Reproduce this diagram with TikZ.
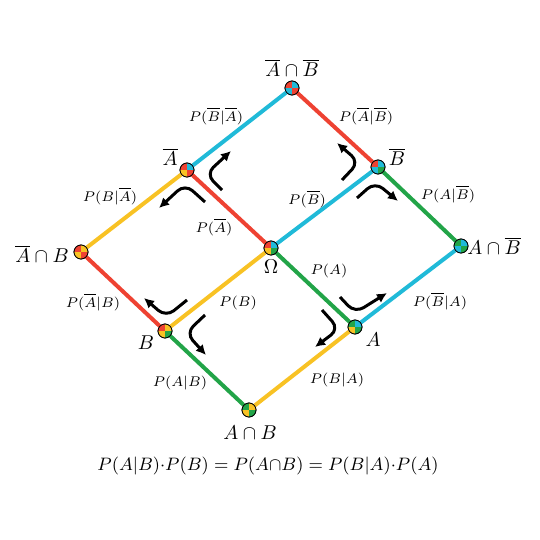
\documentclass[tikz,border=0pt]{standalone}
\usetikzlibrary{arrows.meta,calc}
\definecolor{evred}{RGB}{238,66,50}
\definecolor{evcyan}{RGB}{32,186,216}
\definecolor{evyellow}{RGB}{248,194,36}
\definecolor{evgreen}{RGB}{34,164,72}
\tikzset{
  dot/.style={circle,draw=black,line width=0.4pt,inner sep=0pt,minimum size=7pt},
  edge/.style={line width=2pt},
  turn/.style={line width=1.5pt,rounded corners=5pt,-{Latex[length=5pt,width=5pt]}},
  plab/.style={font=\scriptsize},
  evlab/.style={font=\normalsize}
}
% quarter colours of an event dot: node, top left, top right, bottom left, bottom right
\newcommand{\quads}[5]{%
  \begin{scope}
    \clip (#1.center) circle (3.5pt);
    \fill[#2] (#1.center) rectangle ++(-4pt,4pt);
    \fill[#3] (#1.center) rectangle ++(4pt,4pt);
    \fill[#4] (#1.center) rectangle ++(-4pt,-4pt);
    \fill[#5] (#1.center) rectangle ++(4pt,-4pt);
  \end{scope}
  \draw[line width=0.4pt] (#1.center) circle (3.5pt);
}
\begin{document}
\begin{tikzpicture}[x=0.5pt,y=-0.5pt]
    \useasboundingbox (0,0) rectangle (540,540);
    % events
    \node[dot] (O) at (271,248) {};
    \node[dot] (Ab) at (187,170) {};
    \node[dot] (Bb) at (378,167) {};
    \node[dot] (A) at (355,327) {};
    \node[dot] (B) at (165,331) {};
    \node[dot] (AbBb) at (292,88) {};
    \node[dot] (AbB) at (81,252) {};
    \node[dot] (ABb) at (461,246) {};
    \node[dot] (AB) at (249,410) {};
    % branches
    \draw[edge,evred] (O) -- (Ab);
    \draw[edge,evcyan] (Ab) -- (AbBb);
    \draw[edge,evyellow] (Ab) -- (AbB);
    \draw[edge,evred] (AbB) -- (B);
    \draw[edge,evyellow] (O) -- (B);
    \draw[edge,evcyan] (O) -- (Bb);
    \draw[edge,evred] (Bb) -- (AbBb);
    \draw[edge,evgreen] (Bb) -- (ABb);
    \draw[edge,evgreen] (O) -- (A);
    \draw[edge,evcyan] (A) -- (ABb);
    \draw[edge,evgreen] (B) -- (AB);
    \draw[edge,evyellow] (A) -- (AB);
    % dots
    \quads{O}{evred}{evcyan}{evyellow}{evgreen}
    \quads{Ab}{evred}{evcyan}{evyellow}{evred}
    \quads{Bb}{evred}{evcyan}{evcyan}{evgreen}
    \quads{A}{evgreen}{evcyan}{evyellow}{evgreen}
    \quads{B}{evred}{evyellow}{evyellow}{evgreen}
    \quads{AbBb}{evred}{evcyan}{evcyan}{evred}
    \quads{AbB}{evred}{evyellow}{evyellow}{evred}
    \quads{ABb}{evgreen}{evcyan}{evcyan}{evgreen}
    \quads{AB}{evgreen}{evyellow}{evyellow}{evgreen}
    % turning arrows
    \draw[turn] ($(Ab)+(35,20)$) -- ($(Ab)+(19,4)$) -- ($(Ab)+(44,-19)$);
    \draw[turn] ($(Ab)+(18,32)$) -- ($(Ab)+(-2,14)$) -- ($(Ab)+(-28,38)$);
    \draw[turn] ($(Bb)+(-36,13)$) -- ($(Bb)+(-19,-5)$) -- ($(Bb)+(-41,-24)$);
    \draw[turn] ($(Bb)+(-21,31)$) -- ($(Bb)+(-3,15)$) -- ($(Bb)+(20,34)$);
    \draw[turn] ($(B)+(22,-31)$) -- ($(B)+(1,-14)$) -- ($(B)+(-21,-33)$);
    \draw[turn] ($(B)+(40,-16)$) -- ($(B)+(21,2)$) -- ($(B)+(41,24)$);
    \draw[turn] ($(A)+(-15,-30)$) -- ($(A)+(0,-14)$) -- ($(A)+(32,-34)$);
    \draw[turn] ($(A)+(-33,-17)$) -- ($(A)+(-16,2)$) -- ($(A)+(-40,20)$);
    % event labels
    \node[evlab] (lAbBb) at (292,68) {$\overline{A}\cap\overline{B}$};
    \node[evlab] (lAb) at (170,157) {$\overline{A}$};
    \node[evlab] (lBb) at (397,157) {$\overline{B}$};
    \node[evlab] (lAbB) at (42,254) {$\overline{A}\cap B$};
    \node[evlab] (lO) at (271,267) {$\Omega$};
    \node[evlab] (lABb) at (494,246) {$A\cap\overline{B}$};
    \node[evlab] (lB) at (146,343) {$B$};
    \node[evlab] (lA) at (373,340) {$A$};
    \node[evlab] (lAB) at (250,433) {$A\cap B$};
    % branch labels
    \node[plab] (pBbAb) at (216,116) {$P(\overline{B}|\overline{A})$};
    \node[plab] (pAbBb) at (366,116) {$P(\overline{A}|\overline{B})$};
    \node[plab] (pBAb) at (110,196) {$P(B|\overline{A})$};
    \node[plab] (pAb) at (214,227) {$P(\overline{A})$};
    \node[plab] (pBb) at (307,199) {$P(\overline{B})$};
    \node[plab] (pABb) at (448,194) {$P(A|\overline{B})$};
    \node[plab] (pA) at (329,271) {$P(A)$};
    \node[plab] (pBbA) at (440,301) {$P(\overline{B}|A)$};
    \node[plab] (pAbB) at (93,302) {$P(\overline{A}|B)$};
    \node[plab] (pB) at (238,303) {$P(B)$};
    \node[plab] (pAB) at (180,383) {$P(A|B)$};
    \node[plab] (pBA) at (337,380) {$P(B|A)$};
    % formula
    \node[font=\fontsize{9.3}{11}\selectfont] (eq) at (268,466) {$P(A|B){\cdot}P(B)=P(A{\cap}B)=P(B|A){\cdot}P(A)$};
\end{tikzpicture}
\end{document}
